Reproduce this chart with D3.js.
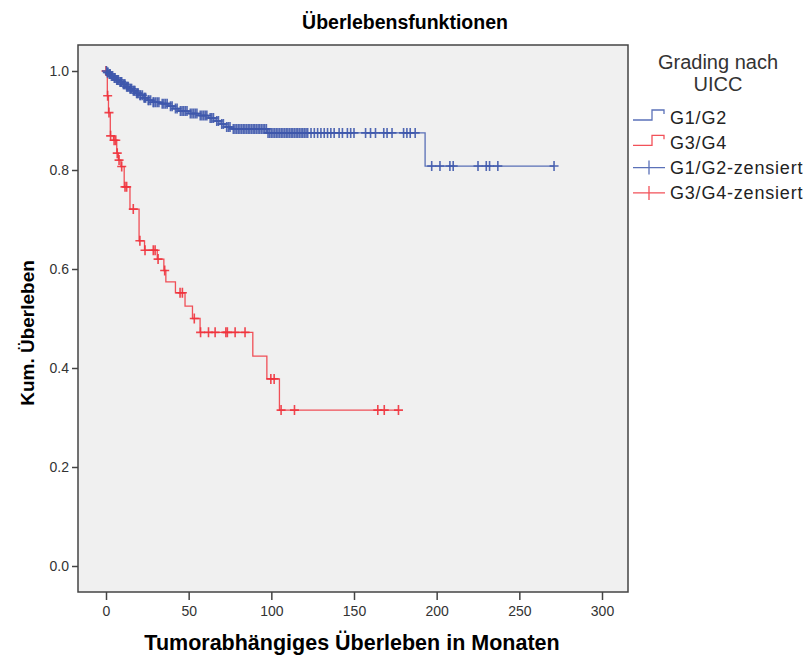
<!DOCTYPE html>
<html>
<head>
<meta charset="utf-8">
<script src="https://cdn.jsdelivr.net/npm/d3@7"></script>
<style>
  body { margin: 0; background: #fff; }
  svg text { font-family: "Liberation Sans", Arial, sans-serif; }
</style>
</head>
<body>
<div id="chart"></div>
<script>
// step points [month, survival] and censored months
let g12Steps = [[0, 1], [0.5, 0.997], [1.5, 0.994], [3, 0.990], [4.5, 0.986], [6, 0.982], [8, 0.978],
  [10, 0.973], [12, 0.968], [14, 0.964], [16, 0.960], [18, 0.955], [20, 0.951], [22.5, 0.946],
  [25, 0.941], [28, 0.937], [33, 0.934], [38, 0.929], [41, 0.924], [44, 0.919], [50, 0.914],
  [56, 0.910], [62, 0.905], [66, 0.899], [69, 0.893], [72, 0.887], [76, 0.883], [97.5, 0.875],
  [193, 0.808], [271, 0.808]]
let g12Censored = [0.3, 0.8, 1.2, 2, 2.5, 3.3, 4, 5, 5.5, 6.5, 7, 7.5, 8.5, 9, 9.5, 10.5, 11, 11.5,
  12.5, 13, 13.5, 14.5, 15, 15.5, 16.5, 17, 17.5, 18.5, 19, 19.5, 20.5, 21, 22, 23, 23.5, 24, 25.5,
  26, 27, 28.5, 29, 30, 31, 32, 34, 35, 36, 37, 39, 40, 42, 43, 45, 46, 47, 48, 49, 51, 52, 53, 54,
  55, 57, 58, 59, 60, 61, 63, 64, 65, 67, 68, 70, 71, 73, 74, 75, 77, 78, 79, 80, 81, 82, 83, 84, 85,
  86, 87, 88, 89, 90, 91, 92, 93, 94, 95, 96, 97, 98, 99, 100, 101, 102, 103, 104, 105, 106, 107,
  108, 109, 110, 111, 112, 113, 114, 115, 116, 117, 118, 119, 120, 121, 122, 124, 126, 128, 130,
  132, 134, 136, 138, 141, 143, 146, 148, 150, 157, 160, 163, 168, 170, 173, 180, 182, 184, 187,
  197, 202, 208, 210, 225, 230, 232, 237, 271]

let g34Steps = [[0, 1], [0.8, 0.950], [1.5, 0.916], [2.6, 0.869], [4.5, 0.860], [6.5, 0.834],
  [7.5, 0.820], [9, 0.807], [11, 0.766], [14.5, 0.721], [20, 0.657], [23.3, 0.638], [31, 0.620],
  [35, 0.597], [36.2, 0.574], [42, 0.552], [47.8, 0.525], [52.3, 0.500], [56.9, 0.472],
  [88.8, 0.424], [97.3, 0.378], [104.9, 0.315], [177, 0.315]]
let g34Censored = [0, 1, 1.8, 2.8, 4.9, 5.9, 6.8, 7.9, 9.5, 11.5, 12.5, 16.5, 20.5, 23.6, 28.6, 29.7,
  31.5, 35.5, 44.8, 46.2, 53.4, 57.2, 62, 66, 72.5, 73.4, 78.1, 84.1, 99.7, 101.7, 105.9, 114,
  164.4, 168.3, 176.9]

let xTicks = [0, 50, 100, 150, 200, 250, 300]
let yTicks = [0, 0.2, 0.4, 0.6, 0.8, 1.0]

let blue = '#3e58ac'
let red = '#f0323c'

let groups = [
  { name: 'G1/G2', steps: g12Steps, censored: g12Censored, color: blue },
  { name: 'G3/G4', steps: g34Steps, censored: g34Censored, color: red }
]

let W = 806, H = 658
let frame = { left: 78, right: 628, top: 45, bottom: 592 }

let svg = d3.select('#chart').append('svg').attr('width', W).attr('height', H)

let x = d3.scaleLinear().domain([0, 300]).range([106, 602])
let y = d3.scaleLinear().domain([0, 1]).range([566, 71])

svg.append('rect')
  .attr('x', frame.left).attr('y', frame.top)
  .attr('width', frame.right - frame.left).attr('height', frame.bottom - frame.top)
  .attr('fill', '#f0f0f0')

// survival at a given month (step function)
function survivalAt(steps, t) {
  let i = d3.bisector(function(d) { return d[0] }).right(steps, t) - 1
  return steps[Math.max(0, i)][1]
}

let line = d3.line()
  .x(function(d) { return x(d[0]) })
  .y(function(d) { return y(d[1]) })
  .curve(d3.curveStepAfter)

// red first so blue sits on top like the reference
groups.slice().reverse().forEach(function(g) {
  svg.append('path')
    .attr('d', line(g.steps))
    .attr('fill', 'none')
    .attr('stroke', g.color)
    .attr('stroke-opacity', 0.85)
    .attr('stroke-width', 1.3)

  svg.append('g').selectAll('path')
    .data(g.censored)
    .enter()
      .append('path')
        .attr('transform', function(t) { return 'translate(' + x(t) + ',' + y(survivalAt(g.steps, t)) + ')' })
        .attr('d', 'M-4.5,0H4.5M0,-5V5')
        .attr('stroke', g.color)
        .attr('stroke-opacity', 0.9)
        .attr('stroke-width', 1.6)
})

svg.append('rect')
  .attr('x', frame.left).attr('y', frame.top)
  .attr('width', frame.right - frame.left).attr('height', frame.bottom - frame.top)
  .attr('fill', 'none').attr('stroke', '#444').attr('stroke-width', 1.5)

let yAxis = svg.append('g')
  .attr('transform', 'translate(' + frame.left + ',0)')
  .call(d3.axisLeft(y).tickValues(yTicks).tickFormat(d3.format('.1f')).tickSize(6).tickPadding(3))
let xAxis = svg.append('g')
  .attr('transform', 'translate(0,' + frame.bottom + ')')
  .call(d3.axisBottom(x).tickValues(xTicks).tickSize(8).tickPadding(6))

;[yAxis, xAxis].forEach(function(a) {
  a.select('.domain').remove()
  a.selectAll('line').attr('stroke', '#444').attr('stroke-width', 1.5)
  a.selectAll('text').attr('fill', '#333').style('font-size', '14px')
    .style('font-family', '"Liberation Sans", Arial, sans-serif')
})

svg.append('text')
  .attr('x', 405).attr('y', 29)
  .attr('text-anchor', 'middle')
  .style('font-size', '19.5px').style('font-weight', 'bold')
  .text('Überlebensfunktionen')

svg.append('text')
  .attr('x', 352).attr('y', 650)
  .attr('text-anchor', 'middle')
  .style('font-size', '21.5px').style('font-weight', 'bold')
  .text('Tumorabhängiges Überleben in Monaten')

svg.append('text')
  .attr('transform', 'translate(34,333) rotate(-90)')
  .attr('text-anchor', 'middle')
  .style('font-size', '19px').style('font-weight', 'bold')
  .text('Kum. Überleben')

// legend
let legend = svg.append('g')
legend.append('text').attr('x', 718).attr('y', 69).attr('text-anchor', 'middle')
  .attr('fill', '#333').style('font-size', '20px').text('Grading nach')
legend.append('text').attr('x', 718).attr('y', 91).attr('text-anchor', 'middle')
  .attr('fill', '#333').style('font-size', '20px').text('UICC')

let legendItems = [
  { label: 'G1/G2', color: blue, kind: 'step' },
  { label: 'G3/G4', color: red, kind: 'step' },
  { label: 'G1/G2-zensiert', color: blue, kind: 'cross' },
  { label: 'G3/G4-zensiert', color: red, kind: 'cross' }
]

let rows = legend.selectAll('g.row')
  .data(legendItems)
  .enter()
    .append('g')
      .attr('class', 'row')
      .attr('transform', function(d, i) { return 'translate(633,' + (117 + i * 25.3) + ')' })

rows.append('path')
  .attr('d', function(d) { return d.kind == 'step' ? 'M0,3H19V-7H31V-3' : 'M0,0H32M16,-7V7' })
  .attr('fill', 'none')
  .attr('stroke', function(d) { return d.color })
  .attr('stroke-opacity', 0.85)
  .attr('stroke-width', 1.3)

rows.append('text')
  .attr('x', 37).attr('y', 6.5)
  .attr('fill', '#222')
  .style('font-size', '18px')
  .style('letter-spacing', '0.8px')
  .text(function(d) { return d.label })
</script>
</body>
</html>
